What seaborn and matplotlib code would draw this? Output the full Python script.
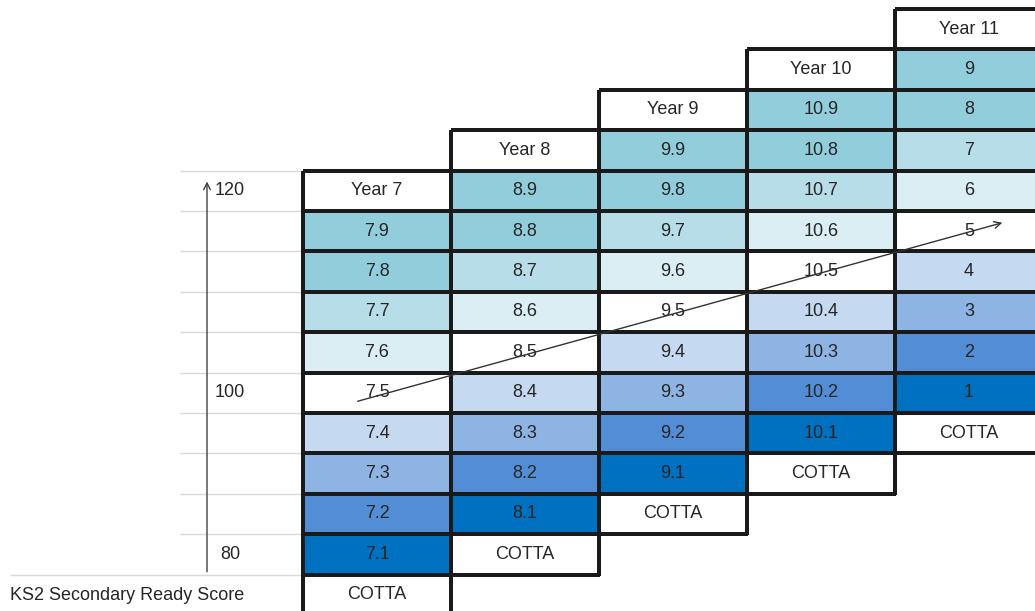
import numpy as np
import pandas as pd
import matplotlib
matplotlib.use("Agg")
import matplotlib.pyplot as plt
from matplotlib.colors import ListedColormap
import seaborn as sns

# data
years = ["Year 7", "Year 8", "Year 9", "Year 10", "Year 11"]
year7 = ["7.9", "7.8", "7.7", "7.6", "7.5", "7.4", "7.3", "7.2", "7.1"]
year8 = ["8.9", "8.8", "8.7", "8.6", "8.5", "8.4", "8.3", "8.2", "8.1"]
year9 = ["9.9", "9.8", "9.7", "9.6", "9.5", "9.4", "9.3", "9.2", "9.1"]
year10 = ["10.9", "10.8", "10.7", "10.6", "10.5", "10.4", "10.3", "10.2", "10.1"]
year11 = ["9", "8", "7", "6", "5", "4", "3", "2", "1"]
levels = [9, 8, 7, 6, 5, 4, 3, 2, 1]
bottom_label = "COTTA"
score_ticks = ["120", "100", "80"]
score_rows = [4.5, 9.5, 13.5]
axis_title = "KS2 Secondary Ready Score"

# colour for level 1..9, index 0 = plain white cell (headers / COTTA)
level_colors = ["#FFFFFF",
                "#0070C0", "#538DD5", "#8DB4E2", "#C5D9F1", "#FFFFFF",
                "#DAEEF3", "#B7DEE8", "#92CDDC", "#92CDDC"]

columns = [year7, year8, year9, year10, year11]
n_rows = 15
codes = np.full((n_rows, len(years)), np.nan)
labels = np.full((n_rows, len(years)), "", dtype=object)
for k, (yr, vals) in enumerate(zip(years, columns)):
    top = 4 - k
    codes[top, k] = 0
    labels[top, k] = yr
    for i, (v, lv) in enumerate(zip(vals, levels)):
        codes[top + 1 + i, k] = lv
        labels[top + 1 + i, k] = v
    codes[top + 10, k] = 0
    labels[top + 10, k] = bottom_label
mask = np.isnan(codes)

sns.set_theme(style="white")
plt.rcParams['font.family'] = ['Liberation Sans', 'DejaVu Sans']

# pixel -> cell units (cell = 148 x 40.4 px, table starts at x=303, y=9)
cw, rh, x0, y0 = 148.0, 40.4, 303.0, 9.0
W, H = 1035, 611

fig = plt.figure(figsize=(W / 100, H / 100), dpi=100)
ax = fig.add_axes([0, 0, 1, 1])
df = pd.DataFrame(codes, columns=years)
sns.heatmap(df, mask=mask, cmap=ListedColormap(level_colors),
            vmin=-0.5, vmax=9.5, annot=labels, fmt="", cbar=False,
            linewidths=1.7, linecolor="#1a1a1a",
            annot_kws=dict(color="#262626", fontsize=13), ax=ax)
# no border on the empty (masked) cells
mesh = ax.collections[0]
ec = np.where(mask.ravel()[:, None], [0, 0, 0, 0], [0.1, 0.1, 0.1, 1.0])
mesh.set_edgecolors(ec)

ax.set_xlim(-x0 / cw, (W - x0) / cw)
ax.set_ylim((H - y0) / rh, -y0 / rh)
ax.set_axis_off()

# faint gridlines on the left
ax.hlines(np.arange(4, 14), -123 / cw, 0, color="#d9d9d9", lw=1, zorder=0)
ax.hlines(14, -293 / cw, 0, color="#d9d9d9", lw=1, zorder=0)

# vertical score axis
xa = (207 - x0) / cw
ax.annotate("", xy=(xa, 4.2), xytext=(xa, 14),
            arrowprops=dict(arrowstyle="->", color="#404040", lw=1))
for t, r in zip(score_ticks, score_rows):
    ax.text((230 - x0) / cw, r, t, ha="center", va="center", fontsize=13, color="#262626")
ax.text((10 - x0) / cw, (596 - y0) / rh, axis_title, ha="left", va="center",
        fontsize=13, color="#262626")

# diagonal progress arrow
ax.annotate("", xy=((1005 - x0) / cw, (222 - y0) / rh),
            xytext=((355 - x0) / cw, (402 - y0) / rh),
            arrowprops=dict(arrowstyle="->", color="#333333", lw=1))

fig.savefig("out.png", dpi=100)
